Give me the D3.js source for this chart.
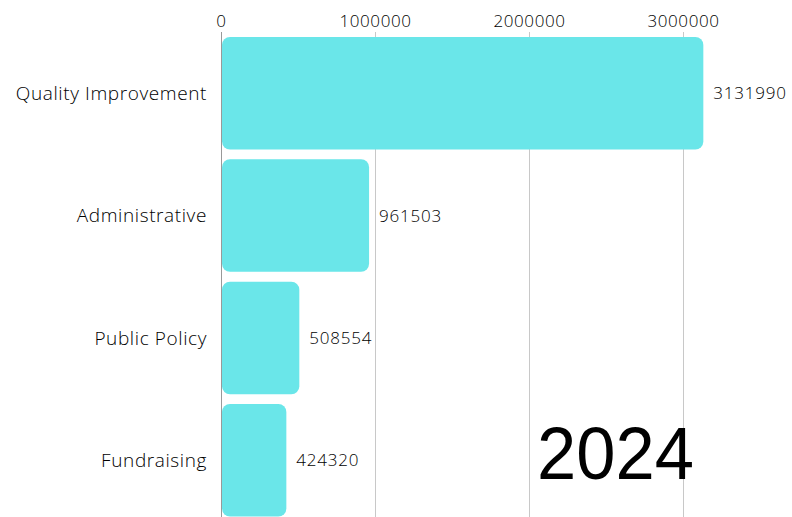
<!DOCTYPE html>
<html>
<head>
<meta charset="utf-8">
<script src="https://cdn.jsdelivr.net/npm/d3@7"></script>
<style>
  body { margin: 0; background: #fff; }
</style>
</head>
<body>
<svg id="chart" width="792" height="517"></svg>
<script>
var categories = ["Quality Improvement", "Administrative", "Public Policy", "Fundraising"];
var values     = [3131990, 961503, 508554, 424320];
var xTicks     = [0, 1000000, 2000000, 3000000];
var yearLabel  = "2024";

var FONT = "'Open Sans', sans-serif";

var svg = d3.select("#chart");

var x = d3.scaleLinear()
	.domain([0, 1000000])
	.range([221, 375]);

var y = d3.scaleBand()
	.domain(categories)
	.range([32, 521.5])
	.paddingInner(0.08)
	.paddingOuter(0.04);

// grid lines behind bars
svg.append("g")
	.selectAll("line")
	.data(xTicks.slice(1))
	.join("line")
	.attr("x1", function(d) { return x(d) + 0.5; })
	.attr("x2", function(d) { return x(d) + 0.5; })
	.attr("y1", 32)
	.attr("y2", 517)
	.attr("stroke", "#c8c8c8")
	.attr("stroke-width", 1);

// top axis
var xAxis = d3.axisTop(x)
	.tickValues(xTicks)
	.tickFormat(d3.format("d"))
	.tickSize(0)
	.tickPadding(0);

svg.append("g")
	.attr("transform", "translate(0,27)")
	.call(xAxis)
	.call(function(g) { g.select(".domain").remove(); })
	.selectAll("text")
	.attr("font-size", 17)
	.attr("font-family", FONT)
	.attr("font-weight", 300)
	.attr("letter-spacing", 0.6)
	.attr("fill", "#000");

// left axis line
svg.append("line")
	.attr("x1", 221.5)
	.attr("x2", 221.5)
	.attr("y1", 32)
	.attr("y2", 517)
	.attr("stroke", "#999");

// bars
svg.append("g")
	.selectAll("rect")
	.data(values)
	.join("rect")
	.attr("x", x(0) + 1)
	.attr("y", function(d, i) { return y(categories[i]); })
	.attr("width", function(d) { return x(d) - x(0) - 1; })
	.attr("height", y.bandwidth())
	.attr("rx", 8)
	.attr("fill", "#6ae6e9");

// category labels
svg.append("g")
	.selectAll("text")
	.data(categories)
	.join("text")
	.attr("x", 207)
	.attr("y", function(d) { return y(d) + y.bandwidth() / 2; })
	.attr("dy", "0.35em")
	.attr("text-anchor", "end")
	.attr("font-family", FONT)
	.attr("font-weight", 300)
	.attr("font-size", 19)
	.attr("letter-spacing", 0.6)
	.attr("fill", "#000")
	.text(function(d) { return d; });

// value labels
svg.append("g")
	.selectAll("text")
	.data(values)
	.join("text")
	.attr("x", function(d) { return x(d) + 10; })
	.attr("y", function(d, i) { return y(categories[i]) + y.bandwidth() / 2; })
	.attr("dy", "0.35em")
	.attr("font-family", FONT)
	.attr("font-weight", 300)
	.attr("font-size", 17)
	.attr("letter-spacing", 0.8)
	.attr("fill", "#000")
	.text(function(d) { return d; });

// year
svg.append("text")
	.attr("x", 694)
	.attr("y", 479)
	.attr("text-anchor", "end")
	.attr("font-size", 75)
	.attr("font-family", "'Liberation Sans', sans-serif")
	.attr("textLength", 157)
	.attr("lengthAdjust", "spacingAndGlyphs")
	.attr("fill", "#000")
	.text(yearLabel);
</script>
</body>
</html>
